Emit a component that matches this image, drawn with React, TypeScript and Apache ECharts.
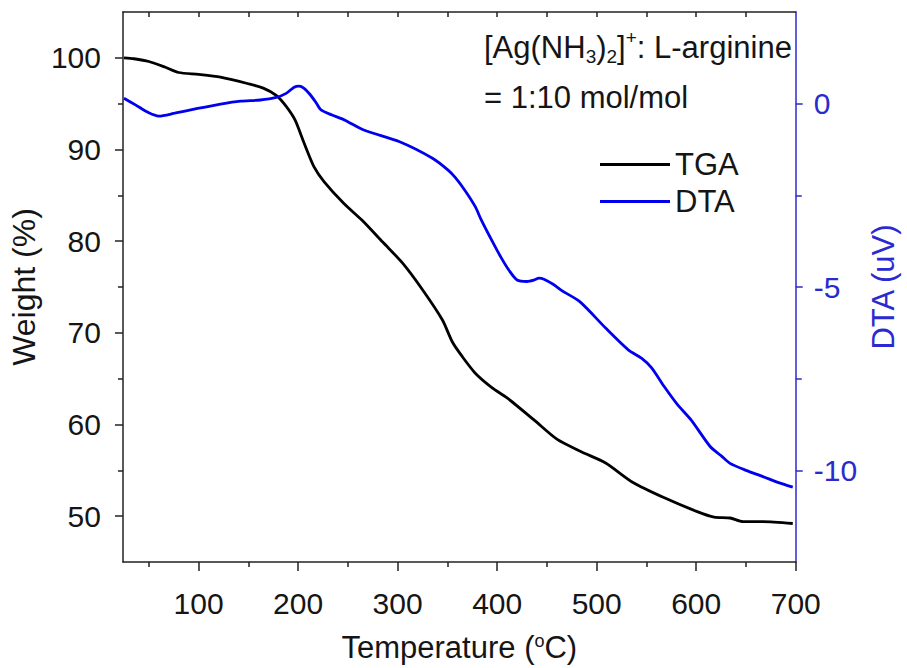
import React, { useEffect, useRef } from "react";
import * as echarts from "echarts";

const tgaTemp = [25, 35, 50, 66, 80, 100, 122, 149, 165, 178, 188, 197, 206, 216, 226, 246, 266, 285, 305, 325, 345, 355, 365, 378, 395, 410, 437, 460, 485, 509, 536, 568, 601, 618, 634, 647, 667, 697];
const tgaWeight = [100, 99.9, 99.6, 99.0, 98.4, 98.2, 97.9, 97.2, 96.7, 95.9, 94.7, 93.2, 90.7, 88.1, 86.5, 84.1, 82.1, 79.9, 77.6, 74.7, 71.4, 69.0, 67.4, 65.6, 64.0, 62.9, 60.5, 58.4, 57.0, 55.8, 53.7, 52.0, 50.5, 49.9, 49.8, 49.4, 49.4, 49.2];

const dtaTemp = [25, 37, 50, 60, 76, 99, 122, 142, 162, 178, 188, 196, 201, 206, 212, 218, 223, 234, 247, 266, 302, 335, 351, 358, 368, 378, 384, 395, 404, 412, 420, 430, 437, 442, 447, 457, 465, 483, 509, 532, 545, 555, 568, 581, 595, 614, 625, 634, 650, 667, 682, 697];
const dtaSignal = [0.15, -0.04, -0.25, -0.34, -0.26, -0.13, -0.01, 0.07, 0.10, 0.17, 0.28, 0.45, 0.48, 0.42, 0.25, 0.03, -0.17, -0.31, -0.45, -0.72, -1.04, -1.49, -1.82, -2.02, -2.38, -2.81, -3.17, -3.75, -4.2, -4.55, -4.81, -4.85, -4.81, -4.76, -4.79, -4.94, -5.10, -5.40, -6.12, -6.72, -6.94, -7.2, -7.72, -8.2, -8.63, -9.35, -9.6, -9.81, -10.0, -10.17, -10.33, -10.46];

const xMajor = [100, 200, 300, 400, 500, 600, 700];
const xMinor = [50, 150, 250, 350, 450, 550, 650];
const xTop = [50, 100, 150, 200, 250, 300, 350, 400, 450, 500, 550, 600, 650];
const yLeftMajor = [50, 60, 70, 80, 90, 100];
const yLeftMinor = [55, 65, 75, 85, 95];
const yRightMajor = [-10, -5, 0];
const yRightMinor = [-7.5, -2.5];

const FONT = "'Liberation Sans', Arial, sans-serif";
const BLUE = "#0000ee";
const AXBLUE = "#2a2ad0";
const AXBLACK = "#222";
const TXT = "#151515";
const FS = 30;

export default function App() {
  const ref = useRef<HTMLDivElement>(null);
  useEffect(() => {
    if (!ref.current) return;
    const chart = echarts.init(ref.current, undefined, { renderer: "svg" });
    const common = { min: 24, max: 700, type: "value" as const, gridIndex: 0 };
    chart.setOption({
      animation: false,
      backgroundColor: "#fff",
      textStyle: { fontFamily: FONT },
      grid: { left: 122, right: 100, top: 12, bottom: 106, containLabel: false },
      legend: {
        data: ["TGA", "DTA"],
        orient: "vertical",
        left: 595,
        top: 144,
        icon: "rect",
        itemWidth: 70,
        itemHeight: 3,
        itemGap: 6,
        textStyle: { fontSize: 31, color: TXT, fontFamily: FONT, lineHeight: 31 },
      },
      xAxis: [
        {
          ...common,
          position: "bottom",
          name: "Temperature ({s|o}C)",
          nameLocation: "middle",
          nameGap: 70,
          nameTextStyle: {
            fontSize: 31,
            color: TXT,
            fontFamily: FONT,
            rich: { s: { fontSize: 18, color: TXT, fontFamily: FONT, verticalAlign: "top", lineHeight: 18 } },
          },
          axisLine: { onZero: false, lineStyle: { color: AXBLACK, width: 1.5 } },
          axisTick: { show: true, length: 9, customValues: xMajor, lineStyle: { color: AXBLACK, width: 1.5 } },
          axisLabel: { customValues: xMajor, fontSize: FS, color: TXT, margin: 26, fontFamily: FONT },
          splitLine: { show: false },
        },
        {
          ...common,
          position: "bottom",
          axisLine: { show: false, onZero: false },
          axisTick: { show: true, length: 5, customValues: xMinor, lineStyle: { color: AXBLACK, width: 1.5 } },
          axisLabel: { show: false },
          splitLine: { show: false },
        },
        {
          ...common,
          position: "top",
          axisLine: { onZero: false, lineStyle: { color: AXBLACK, width: 1.5 } },
          axisTick: { show: true, inside: true, length: 5, customValues: xTop, lineStyle: { color: AXBLACK, width: 1.5 } },
          axisLabel: { show: false },
          splitLine: { show: false },
        },
      ],
      yAxis: [
        {
          type: "value",
          position: "left",
          min: 45,
          max: 105,
          name: "Weight (%)",
          nameLocation: "middle",
          nameGap: 75,
          nameTextStyle: { fontSize: 32, color: TXT, fontFamily: FONT },
          axisLine: { onZero: false, lineStyle: { color: AXBLACK, width: 1.5 } },
          axisTick: { show: true, length: 8, customValues: yLeftMajor, lineStyle: { color: AXBLACK, width: 1.5 } },
          axisLabel: { customValues: yLeftMajor, fontSize: FS, color: TXT, margin: 22, fontFamily: FONT },
          splitLine: { show: false },
        },
        {
          type: "value",
          position: "left",
          min: 45,
          max: 105,
          axisLine: { show: false, onZero: false },
          axisTick: { show: true, length: 5, customValues: yLeftMinor, lineStyle: { color: AXBLACK, width: 1.5 } },
          axisLabel: { show: false },
          splitLine: { show: false },
        },
        {
          type: "value",
          position: "right",
          min: -12.5,
          max: 2.5,
          name: "DTA (uV)",
          nameLocation: "middle",
          nameGap: 63,
          nameRotate: 90,
          nameTextStyle: { fontSize: 31, color: AXBLUE, fontFamily: FONT },
          axisLine: { onZero: false, lineStyle: { color: AXBLUE, width: 1.5 } },
          axisTick: { show: true, length: 7, customValues: yRightMajor, lineStyle: { color: AXBLUE, width: 1.5 } },
          axisLabel: { customValues: yRightMajor, fontSize: FS, color: AXBLUE, margin: 18, fontFamily: FONT },
          splitLine: { show: false },
        },
        {
          type: "value",
          position: "right",
          min: -12.5,
          max: 2.5,
          axisLine: { show: false, onZero: false },
          axisTick: { show: true, length: 6, customValues: yRightMinor, lineStyle: { color: AXBLUE, width: 1.5 } },
          axisLabel: { show: false },
          splitLine: { show: false },
        },
      ],
      graphic: [
        {
          type: "text",
          left: 484,
          top: 28,
          style: {
            text: "{n|[Ag(NH}{sub|3}{n|)}{sub|2}{n|]}{sup|+}{n|: L-arginine}",
            rich: {
              n: { fontSize: 31, fontFamily: FONT, fill: TXT, lineHeight: 38, verticalAlign: "middle" },
              sub: { fontSize: 19, fontFamily: FONT, fill: TXT, lineHeight: 19, verticalAlign: "bottom" },
              sup: { fontSize: 19, fontFamily: FONT, fill: TXT, lineHeight: 19, verticalAlign: "top" },
            },
          },
        },
        {
          type: "text",
          left: 484,
          top: 82,
          style: { text: "= 1:10 mol/mol", fontSize: 31, fontFamily: FONT, fill: TXT },
        },
      ],
      series: [
        {
          name: "TGA",
          type: "line",
          xAxisIndex: 0,
          yAxisIndex: 0,
          data: tgaTemp.map((t, i) => [t, tgaWeight[i]]),
          showSymbol: false,
          smooth: 0.25,
          lineStyle: { color: "#000", width: 2.8 },
          itemStyle: { color: "#000" },
        },
        {
          name: "DTA",
          type: "line",
          xAxisIndex: 0,
          yAxisIndex: 2,
          data: dtaTemp.map((t, i) => [t, dtaSignal[i]]),
          showSymbol: false,
          smooth: 0.25,
          lineStyle: { color: BLUE, width: 2.8 },
          itemStyle: { color: BLUE },
        },
      ],
    });
    return () => chart.dispose();
  }, []);
  return <div ref={ref} style={{ width: 907, height: 668, position: "absolute", left: 0, top: 0 }} />;
}
